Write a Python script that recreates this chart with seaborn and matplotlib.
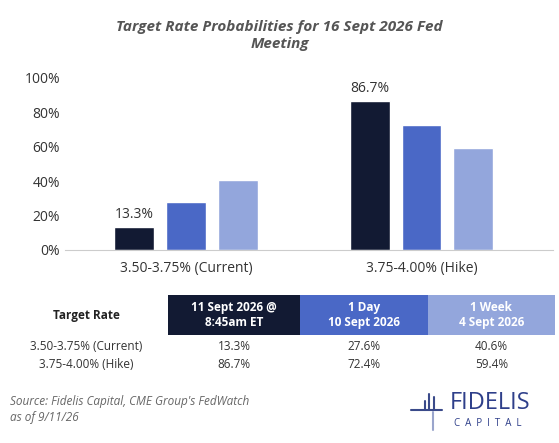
import numpy as np
import pandas as pd
import seaborn as sns
import matplotlib.pyplot as plt
from matplotlib.patches import Rectangle

categories = ["3.50-3.75% (Current)", "3.75-4.00% (Hike)"]
series_labels = ["11 Sept 2026 @\n8:45am ET", "1 Day\n10 Sept 2026", "1 Week\n4 Sept 2026"]
today = [13.3, 86.7]
one_day = [27.6, 72.4]
one_week = [40.6, 59.4]
colors = ["#121a33", "#4a68c6", "#93a6dc"]
yticks = [0, 20, 40, 60, 80, 100]

df = pd.DataFrame({
    "rate": categories * 3,
    "series": [series_labels[0]] * 2 + [series_labels[1]] * 2 + [series_labels[2]] * 2,
    "prob": today + one_day + one_week,
})

sns.set_style("white")
plt.rcParams["font.family"] = ["Open Sans", "DejaVu Sans"]
fig = plt.figure(figsize=(5.59, 4.43), dpi=100)
ax = fig.add_axes([0.116, 0.436, 0.874, 0.388])
sns.barplot(data=df, x="rate", y="prob", hue="series", palette=colors, saturation=1,
            width=0.66, gap=0.23, legend=False, ax=ax)
ax.set_xlim(-0.515, 1.56)
ax.set_ylim(0, 100)
ax.set_yticks(yticks)
ax.set_yticklabels([f"{v}%" for v in yticks], fontsize=10, color="#333333")
ax.tick_params(axis="x", labelsize=10, colors="#333333", length=0, pad=8)
ax.tick_params(axis="y", length=0)
ax.set_xlabel("")
ax.set_ylabel("")
for s in ["top", "right", "left"]:
    ax.spines[s].set_visible(False)
ax.spines["bottom"].set_color("#cccccc")
for bar, v in zip(ax.containers[0], today):
    ax.text(bar.get_x() + bar.get_width() / 2, v + 3, f"{v}%",
            ha="center", va="bottom", fontsize=10, color="#333333")

fig.text(0.5, 0.955, "Target Rate Probabilities for 16 Sept 2026 Fed\nMeeting",
         ha="center", va="top", fontsize=11, fontweight="bold", style="italic",
         color="#555555", linespacing=1.3)

# table
col_left = [0.300, 0.537, 0.765]
col_w = [0.237, 0.228, 0.228]
hy0, hh = 1 - 335 / 443, 40 / 443
fig.text(0.155, hy0 + hh / 2, "Target Rate", ha="center", va="center",
         fontsize=8.5, fontweight="bold", color="#222222")
for i, lab in enumerate(series_labels):
    fig.add_artist(Rectangle((col_left[i], hy0), col_w[i], hh, transform=fig.transFigure,
                             color=colors[i], lw=0))
    fig.text(col_left[i] + col_w[i] / 2, hy0 + hh / 2, lab, ha="center", va="center",
             fontsize=8.5, fontweight="bold", color="white", linespacing=1.2)
rows = [today, one_day, one_week]
for r, cat in enumerate(categories):
    y = 1 - (346 + 19 * r) / 443
    fig.text(0.155, y, cat, ha="center", va="center", fontsize=8.5, color="#333333")
    for i in range(3):
        fig.text(col_left[i] + col_w[i] / 2, y, f"{rows[i][r]}%", ha="center",
                 va="center", fontsize=8.5, color="#333333")

fig.text(0.018, 1 - 409 / 443, "Source: Fidelis Capital, CME Group's FedWatch\nas of 9/11/26",
         ha="left", va="center", fontsize=8.5, style="italic", color="#666666", linespacing=1.3)

# logo
lc = "#3a4a8a"
for dx, h in [(0, 0.02), (0.008, 0.035), (0.016, 0.028)]:
    fig.add_artist(plt.Line2D([0.76 + dx, 0.76 + dx], [0.075, 0.075 + h],
                              transform=fig.transFigure, color=lc, lw=1.5))
fig.add_artist(plt.Line2D([0.735, 0.79], [0.075, 0.075], transform=fig.transFigure,
                          color=lc, lw=1.5))
fig.add_artist(plt.Line2D([0.775, 0.775], [0.03, 0.07], transform=fig.transFigure,
                          color="#9aa5cc", lw=1.5))
fig.text(0.805, 0.09, "FIDELIS", ha="left", va="center", fontsize=17, color="#2e3f8a")
fig.text(0.812, 0.045, "C  A  P  I  T  A  L", ha="left", va="center", fontsize=7,
         color="#2e3f8a")

fig.savefig("out.png", dpi=100)
